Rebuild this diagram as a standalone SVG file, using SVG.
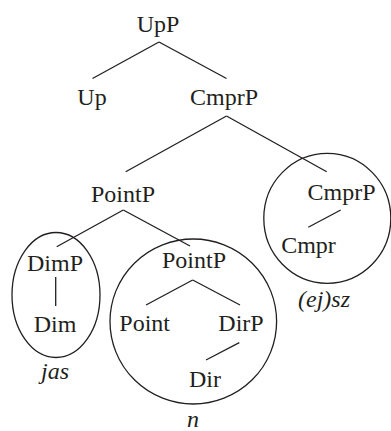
<svg xmlns="http://www.w3.org/2000/svg" width="391" height="431" viewBox="0 0 391 431">
<style>
text{font-family:'Liberation Serif','Nimbus Roman','Nimbus Roman No9 L','FreeSerif','Noto Serif','DejaVu Serif','P052','Tinos','Times',serif;font-size:24px;fill:#231f20;text-anchor:middle}
.it{font-style:italic}
.e{fill:none;stroke:#231f20;stroke-width:1.3}
line{stroke:#231f20;stroke-width:1.3}
</style>
<rect width="391" height="431" fill="#fff"/>
<g id="connectors">
<line x1="159" y1="42" x2="92.5" y2="78.5"/>
<line x1="159" y1="42" x2="226.5" y2="78.5"/>
<line x1="226.5" y1="116" x2="125.7" y2="171.7"/>
<line x1="226.5" y1="116" x2="326.7" y2="171.7"/>
<line x1="123.3" y1="210" x2="56.7" y2="246.7"/>
<line x1="123.3" y1="210" x2="190" y2="246"/>
<line x1="55.7" y1="277" x2="55.7" y2="306"/>
<line x1="192.7" y1="280" x2="146" y2="305"/>
<line x1="192.7" y1="280" x2="240" y2="305"/>
<line x1="239.3" y1="342.7" x2="206" y2="360"/>
<line x1="340.7" y1="210" x2="308.3" y2="227.3"/>
</g>
<g id="circle-jas"><ellipse class="e" cx="56" cy="295" rx="44" ry="62.5"/></g>
<g id="circle-n"><ellipse class="e" cx="193.3" cy="321.5" rx="83.3" ry="82.5"/></g>
<g id="circle-ejsz"><ellipse class="e" cx="327.3" cy="218.3" rx="63.5" ry="65"/></g>
<g id="UpP"><text x="158" y="31.5">UpP</text></g>
<g id="Up"><text x="92" y="105">Up</text></g>
<g id="CmprP1"><text x="224" y="105">CmprP</text></g>
<g id="PointP1"><text x="123" y="201.5">PointP</text></g>
<g id="CmprP2"><text x="341.5" y="200">CmprP</text></g>
<g id="Cmpr"><text x="308.5" y="253.3">Cmpr</text></g>
<g id="ejsz"><text class="it" x="324" y="306.7">(ej)sz</text></g>
<g id="DimP"><text x="55" y="271">DimP</text></g>
<g id="Dim"><text x="55" y="331.5">Dim</text></g>
<g id="jas"><text class="it" x="55" y="378.5">jas</text></g>
<g id="PointP2"><text x="194" y="268.3">PointP</text></g>
<g id="Point"><text x="144.7" y="331">Point</text></g>
<g id="DirP"><text x="241" y="331">DirP</text></g>
<g id="Dir"><text x="205" y="386.7">Dir</text></g>
<g id="n"><text class="it" x="193" y="426.5">n</text></g>
</svg>
